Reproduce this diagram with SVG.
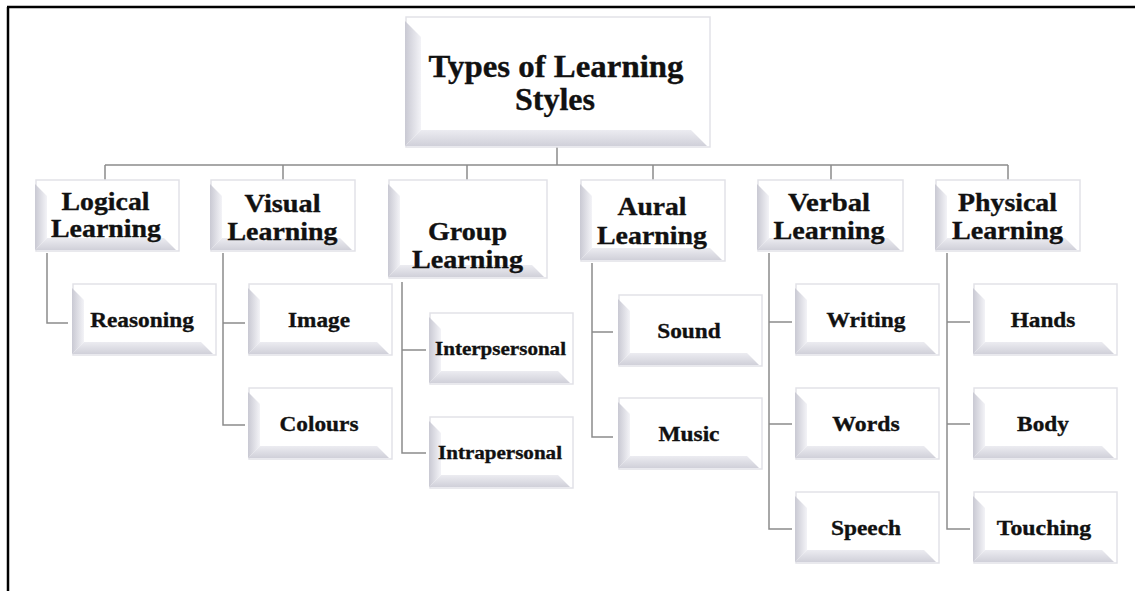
<svg xmlns="http://www.w3.org/2000/svg" xmlns:xlink="http://www.w3.org/1999/xlink" width="1135" height="591" viewBox="0 0 1135 591">
<style>
.ol{fill:#ffffff;stroke:#e2e2e8;stroke-width:1.5}
.lb{fill:url(#gl)}
.bb{fill:url(#gb)}
text{font-family:"Liberation Serif","Times New Roman",serif;font-weight:bold;fill:#111;stroke:#111;stroke-width:0.35;text-anchor:middle}
.t1{font-size:31px}
.t2{font-size:25px}
.t3{font-size:22px}
.t4{font-size:19px}
.cn{fill:none;stroke:#8c8c8c;stroke-width:1.5}
</style>
<defs>
<linearGradient id="gl" x1="0" y1="0" x2="1" y2="0">
<stop offset="0" stop-color="#c9c9d3"/>
<stop offset="1" stop-color="#f3f3f7"/>
</linearGradient>
<linearGradient id="gb" x1="0" y1="0" x2="0" y2="1">
<stop offset="0" stop-color="#ececf1"/>
<stop offset="1" stop-color="#d0d0d9"/>
</linearGradient>
<g id="cbox">
<rect class="ol" x="1" y="0" width="143" height="71"/>
<polygon class="lb" points="0,4 12,16 12,58 0,70"/>
<polygon class="bb" points="0,70 12,58 129,58 141,70"/>
</g>
</defs>
<rect x="0" y="0" width="1135" height="591" fill="#ffffff"/>
<path d="M7 7 H1135 M8 7 V591" fill="none" stroke="#000" stroke-width="2.5"/>

<g id="connectors">
<path class="cn" d="M557 147 V165 M105 165 H1008 M105 165 V180 M283 165 V180 M467 165 V180 M653 165 V180 M831 165 V180 M1008 165 V180"/>
<path class="cn" d="M47 253 V323 H68"/>
<path class="cn" d="M223 253 V425 H245 M223 323 H245"/>
<path class="cn" d="M402 282 V453 H426 M402 350 H426"/>
<path class="cn" d="M592 263 V437 H613 M592 332 H613"/>
<path class="cn" d="M769 253 V529 H792 M769 322 H792 M769 424 H792"/>
<path class="cn" d="M947 253 V529 H970 M947 322 H970 M947 424 H970"/>
</g>

<g id="root">
<rect class="ol" x="406" y="17" width="304" height="130"/>
<polygon class="lb" points="405,21 421,37 421,130 405,146"/>
<polygon class="bb" points="405,146 421,130 691,130 707,146"/>
<text class="t1" x="556" y="77" textLength="255" lengthAdjust="spacingAndGlyphs">Types of Learning</text>
<text class="t1" x="555" y="110" textLength="80" lengthAdjust="spacingAndGlyphs">Styles</text>
</g>

<g id="logical">
<rect class="ol" x="36" y="180" width="143" height="71"/>
<polygon class="lb" points="35,184 47,196 47,238 35,250"/>
<polygon class="bb" points="35,250 47,238 164,238 176,250"/>
<text class="t2" x="105.5" y="210" textLength="88" lengthAdjust="spacingAndGlyphs">Logical</text>
<text class="t2" x="106" y="237" textLength="110" lengthAdjust="spacingAndGlyphs">Learning</text>
</g>
<g id="visual">
<rect class="ol" x="211" y="180" width="144" height="71"/>
<polygon class="lb" points="210,184 222,196 222,238 210,250"/>
<polygon class="bb" points="210,250 222,238 340,238 352,250"/>
<text class="t2" x="282.5" y="212" textLength="76" lengthAdjust="spacingAndGlyphs">Visual</text>
<text class="t2" x="282.5" y="240" textLength="110" lengthAdjust="spacingAndGlyphs">Learning</text>
</g>
<g id="group">
<rect class="ol" x="389" y="180" width="158" height="98"/>
<polygon class="lb" points="388,184 400,196 400,265 388,277"/>
<polygon class="bb" points="388,277 400,265 532,265 544,277"/>
<text class="t2" x="467.5" y="240" textLength="79" lengthAdjust="spacingAndGlyphs">Group</text>
<text class="t2" x="467.5" y="268" textLength="111" lengthAdjust="spacingAndGlyphs">Learning</text>
</g>
<g id="aural">
<rect class="ol" x="581" y="180" width="144" height="81"/>
<polygon class="lb" points="580,184 592,196 592,248 580,260"/>
<polygon class="bb" points="580,260 592,248 710,248 722,260"/>
<text class="t2" x="652" y="215" textLength="69" lengthAdjust="spacingAndGlyphs">Aural</text>
<text class="t2" x="652" y="244" textLength="110" lengthAdjust="spacingAndGlyphs">Learning</text>
</g>
<g id="verbal">
<rect class="ol" x="758" y="180" width="145" height="71"/>
<polygon class="lb" points="757,184 769,196 769,238 757,250"/>
<polygon class="bb" points="757,250 769,238 888,238 900,250"/>
<text class="t2" x="829" y="211" textLength="82" lengthAdjust="spacingAndGlyphs">Verbal</text>
<text class="t2" x="829" y="239" textLength="111" lengthAdjust="spacingAndGlyphs">Learning</text>
</g>
<g id="physical">
<rect class="ol" x="936" y="180" width="144" height="71"/>
<polygon class="lb" points="935,184 947,196 947,238 935,250"/>
<polygon class="bb" points="935,250 947,238 1065,238 1077,250"/>
<text class="t2" x="1007.5" y="211" textLength="99" lengthAdjust="spacingAndGlyphs">Physical</text>
<text class="t2" x="1007.5" y="239" textLength="111" lengthAdjust="spacingAndGlyphs">Learning</text>
</g>

<g id="reasoning"><use xlink:href="#cbox" x="72" y="284"/><text class="t3" x="142" y="326.5" textLength="103.6" lengthAdjust="spacingAndGlyphs">Reasoning</text></g>
<g id="image"><use xlink:href="#cbox" x="248" y="284"/><text class="t3" x="319" y="326.5" textLength="62" lengthAdjust="spacingAndGlyphs">Image</text></g>
<g id="colours"><use xlink:href="#cbox" x="248" y="388"/><text class="t3" x="319" y="430.5" textLength="79" lengthAdjust="spacingAndGlyphs">Colours</text></g>
<g id="interpsersonal"><use xlink:href="#cbox" x="429" y="313"/><text class="t4" x="500.5" y="355" textLength="131" lengthAdjust="spacingAndGlyphs">Interpsersonal</text></g>
<g id="intrapersonal"><use xlink:href="#cbox" x="429" y="417"/><text class="t4" x="500" y="459" textLength="124" lengthAdjust="spacingAndGlyphs">Intrapersonal</text></g>
<g id="sound"><use xlink:href="#cbox" x="618" y="295"/><text class="t3" x="689" y="337.5" textLength="63.5" lengthAdjust="spacingAndGlyphs">Sound</text></g>
<g id="music"><use xlink:href="#cbox" x="618" y="398"/><text class="t3" x="689" y="440.5" textLength="61" lengthAdjust="spacingAndGlyphs">Music</text></g>
<g id="writing"><use xlink:href="#cbox" x="795" y="284"/><text class="t3" x="866" y="326.5" textLength="79" lengthAdjust="spacingAndGlyphs">Writing</text></g>
<g id="words"><use xlink:href="#cbox" x="795" y="388"/><text class="t3" x="866" y="430.5" textLength="67.3" lengthAdjust="spacingAndGlyphs">Words</text></g>
<g id="speech"><use xlink:href="#cbox" x="795" y="492"/><text class="t3" x="866" y="534.5" textLength="70" lengthAdjust="spacingAndGlyphs">Speech</text></g>
<g id="hands"><use xlink:href="#cbox" x="973" y="284"/><text class="t3" x="1043" y="326.5" textLength="64.7" lengthAdjust="spacingAndGlyphs">Hands</text></g>
<g id="body"><use xlink:href="#cbox" x="973" y="388"/><text class="t3" x="1043" y="430.5" textLength="51.8" lengthAdjust="spacingAndGlyphs">Body</text></g>
<g id="touching"><use xlink:href="#cbox" x="973" y="492"/><text class="t3" x="1044" y="534.5" textLength="94.5" lengthAdjust="spacingAndGlyphs">Touching</text></g>
</svg>
